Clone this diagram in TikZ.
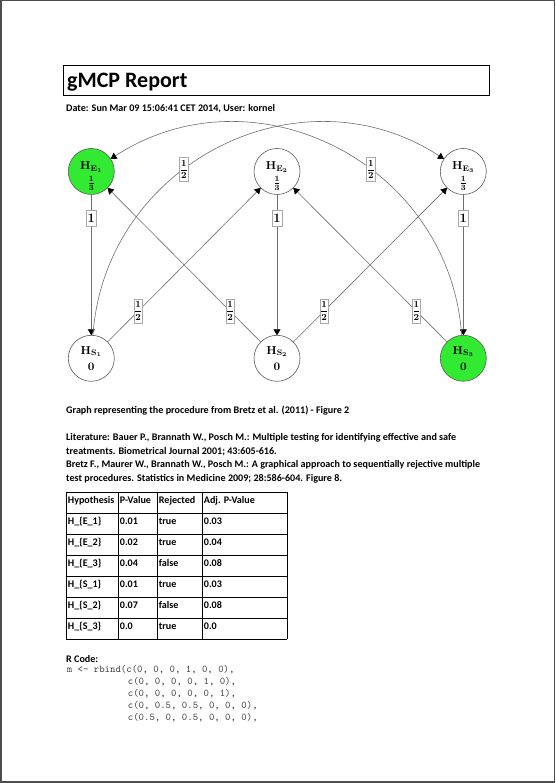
\RequirePackage{fix-cm}
\documentclass[tikz,border=0pt]{standalone}
\usepackage[no-math]{fontspec}
\setmainfont{Carlito}
\usepackage{xcolor}
\definecolor{gmcpGreen}{HTML}{33EA33}
\definecolor{gmcpEdge}{HTML}{6E6E6E}
\definecolor{gmcpBorder}{HTML}{5A5A5A}
\definecolor{gmcpLabel}{HTML}{A8A8A8}
\definecolor{gmcpFrame}{HTML}{4D4D4D}
\definecolor{gmcpCode}{HTML}{3C3C3C}
\usepackage{tikz}
\usetikzlibrary{arrows.meta,positioning}
\newcommand{\wfrac}[2]{{\nulldelimiterspace=0pt$\displaystyle\mathbf{\frac{#1}{#2}}$}}
\newcommand{\hypname}[2]{$\mathbf{H_{#1_{#2}}}$}
\newcommand{\hypE}[1]{\rule{0pt}{17pt}\hypname{E}{#1}\\[4pt]$\mathbf{\frac{1}{3}}$}
\newcommand{\hypS}[1]{\hypname{S}{#1}\\[3.3pt]$\mathbf{0}$}
\tikzset{
    hyp/.style={
        circle,
        draw=gmcpBorder,
        fill=white,
        line width=0.6pt,
        minimum size=46pt,
        inner sep=0pt,
        outer sep=0pt,
        align=center,
        font=\fontsize{11.5}{13}\selectfont
    },
    rejected/.style={
        hyp,
        fill=gmcpGreen
    },
    edge/.style={
        draw=gmcpEdge,
        line width=0.6pt,
        -{Triangle[length=6pt,width=7pt,color=black]}
    },
    weight/.style={
        draw=gmcpLabel,
        fill=white,
        line width=0.5pt,
        inner xsep=1.6pt,
        inner ysep=0pt,
        minimum height=16pt,
        font=\fontsize{12.9}{14}\selectfont
    },
    frac/.style={
        draw=gmcpLabel,
        fill=white,
        line width=0.5pt,
        inner xsep=1.5pt,
        inner ysep=2.6pt,
        font=\fontsize{9.3}{11}\selectfont
    },
    txt/.style={
        anchor=base west,
        inner sep=0pt,
        font=\fontsize{10.1}{12}\selectfont\bfseries
    },
    code/.style={
        anchor=base west,
        inner sep=0pt,
        text=gmcpCode,
        font=\fontsize{10.3}{12}\selectfont\ttfamily
    },
    pageframe/.style={
        draw=gmcpFrame,
        line width=1.5pt
    },
    grid/.style={
        draw=black,
        line width=0.8pt
    }
}

\begin{document}
\begin{tikzpicture}[x=1pt,y=1pt]
    \useasboundingbox (0,0) rectangle (555,783);
    \draw[pageframe] (0.75,0.75) rectangle (554.25,782.25);

    % Header
    \draw[line width=1pt] (63,687) rectangle (489,717);
    \node[txt, font=\fontsize{22}{24}\selectfont\bfseries] (title) at (67,695.3) {gMCP Report};
    \node[txt] (date) at (66,671) {Date: Sun Mar 09 15:06:41 CET 2014, User: kornel};

    % Hypotheses
    \node[rejected] (E1) at (91.3,611.5) {\hypE{1}};
    \node[hyp, right=139.7pt of E1] (E2) {\hypE{2}};
    \node[hyp, right=140.3pt of E2] (E3) {\hypE{3}};
    \node[hyp, below=140.8pt of E1] (S1) {\hypS{1}};
    \node[hyp, below=140.8pt of E2] (S2) {\hypS{2}};
    \node[rejected, below=140.8pt of E3] (S3) {\hypS{3}};

    % Transitions
    \draw[edge] (E1) -- node[weight, pos=0.17] {$\mathbf{1}$} (S1);
    \draw[edge] (E2) -- node[weight, pos=0.17] {$\mathbf{1}$} (S2);
    \draw[edge] (E3) -- node[weight, pos=0.17] {$\mathbf{1}$} (S3);
    \draw[edge] (S1) -- node[frac, pos=0.2] {\wfrac{1}{2}} (E2);
    \draw[edge] (S2) -- node[frac, pos=0.2] {\wfrac{1}{2}} (E1);
    \draw[edge] (S2) -- node[frac, pos=0.2] {\wfrac{1}{2}} (E3);
    \draw[edge] (S3) -- node[frac, pos=0.2] {\wfrac{1}{2}} (E2);
    \draw[edge] (S1) to[out=86, in=147, looseness=1.12] node[frac, pos=0.41] {\wfrac{1}{2}} (E3);
    \draw[edge] (S3) to[out=94, in=33, looseness=1.12] node[frac, pos=0.41] {\wfrac{1}{2}} (E1);

    % Description
    \node[txt] (caption) at (66,369) {Graph representing the procedure from Bretz et al. (2011) - Figure 2};
    \node[txt] (lit1) at (66,342) {Literature: Bauer P., Brannath W., Posch M.: Multiple testing for identifying effective and safe};
    \node[txt] (lit2) at (66,328.5) {treatments. Biometrical Journal 2001; 43:605-616.};
    \node[txt] (lit3) at (66,315) {Bretz F., Maurer W., Brannath W., Posch M.: A graphical approach to sequentially rejective multiple};
    \node[txt] (lit4) at (66,301.5) {test procedures. Statistics in Medicine 2009; 28:586-604. Figure 8.};

    % Result table
    \foreach \k in {0,...,7}
        \draw[grid] (66,291-21*\k) -- (287,291-21*\k);
    \foreach \c in {66,118,157,202,287}
        \draw[grid] (\c,291) -- (\c,144);
    \node[txt] (thHyp) at (67.7,279.5) {Hypothesis};
    \node[txt] (thP) at (119.7,279.5) {P-Value};
    \node[txt] (thRej) at (158.7,279.5) {Rejected};
    \node[txt] (thAdj) at (203.7,279.5) {Adj. P-Value};
    \foreach \h/\p/\rj/\a [count=\r] in {H\_\{E\_1\}/0.01/true/0.03, H\_\{E\_2\}/0.02/true/0.04,
        H\_\{E\_3\}/0.04/false/0.08, H\_\{S\_1\}/0.01/true/0.03,
        H\_\{S\_2\}/0.07/false/0.08, H\_\{S\_3\}/0.0/true/0.0} {
        \node[txt] (hyp\r) at (67.7,279.5-21*\r) {\h};
        \node[txt] (pval\r) at (119.7,279.5-21*\r) {\p};
        \node[txt] (rej\r) at (158.7,279.5-21*\r) {\rj};
        \node[txt] (adj\r) at (203.7,279.5-21*\r) {\a};
    }

    % R code
    \node[txt] (rcode) at (66,120) {R Code:};
    \node[code] (code1) at (66.7,110.5) {m <- rbind(c(0, 0, 0, 1, 0, 0),};
    \node[code] (code2) at (127.7,98.5) {c(0, 0, 0, 0, 1, 0),};
    \node[code] (code3) at (127.7,86.5) {c(0, 0, 0, 0, 0, 1),};
    \node[code] (code4) at (127.7,74.5) {c(0, 0.5, 0.5, 0, 0, 0),};
    \node[code] (code5) at (127.7,62.5) {c(0.5, 0, 0.5, 0, 0, 0),};
\end{tikzpicture}
\end{document}
